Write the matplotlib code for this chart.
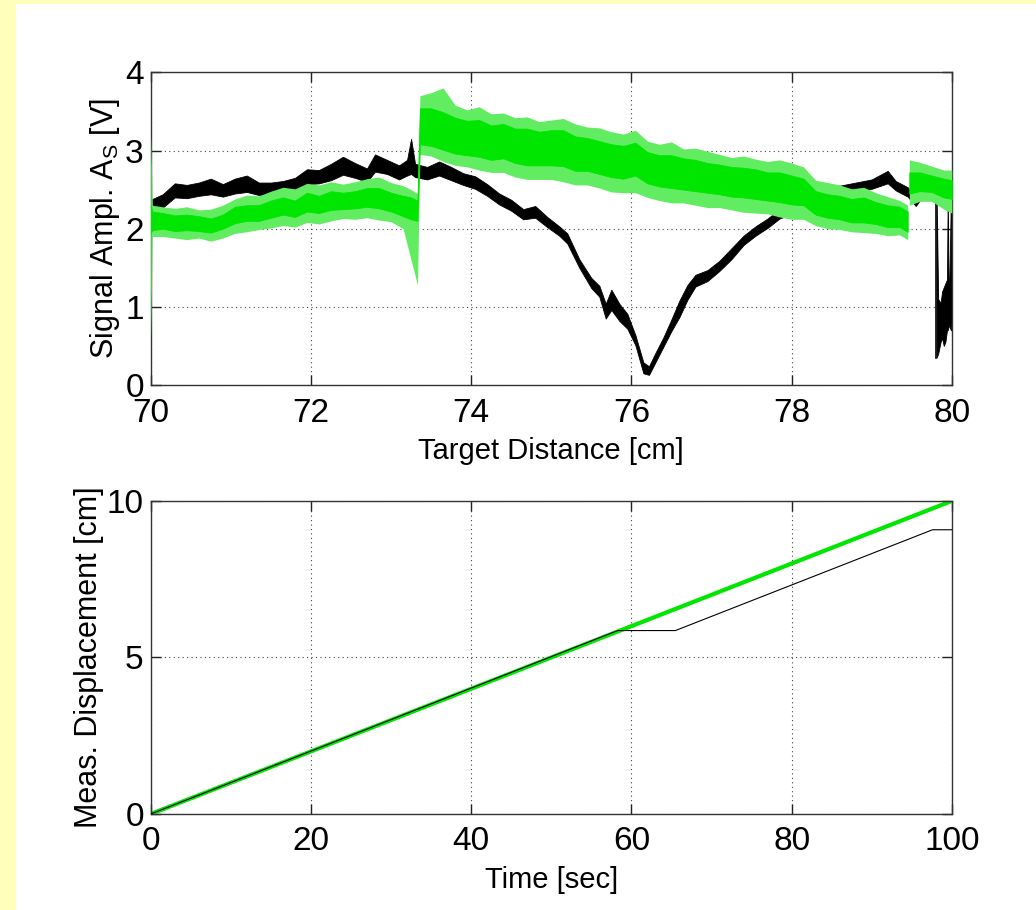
import matplotlib

matplotlib.use("Agg")
import matplotlib.pyplot as plt
from matplotlib.patches import Rectangle

black_x = [70.00, 70.15, 70.30, 70.45, 70.60, 70.75, 70.90, 71.05, 71.20, 71.35,
           71.50, 71.65, 71.80, 71.95, 72.10, 72.25, 72.40, 72.55, 72.70, 72.80,
           72.95, 73.10, 73.20, 73.25, 73.30, 73.45, 73.60, 73.75, 73.90, 74.05,
           74.20, 74.35, 74.50, 74.65, 74.80, 74.95, 75.10, 75.20, 75.35, 75.50,
           75.60, 75.68, 75.75, 75.85, 75.95, 76.05, 76.15, 76.22, 76.30, 76.40,
           76.50, 76.60, 76.70, 76.80, 76.95, 77.10, 77.25, 77.40, 77.55, 77.70,
           77.85, 78.00, 78.20, 78.40, 78.60, 78.80, 79.00, 79.20, 79.30, 79.45,
           79.55, 79.65, 79.79]
black_lo = [2.22, 2.27, 2.40, 2.39, 2.42, 2.44, 2.41, 2.45, 2.47, 2.43,
            2.42, 2.45, 2.49, 2.57, 2.58, 2.62, 2.69, 2.65, 2.60, 2.73,
            2.70, 2.63, 2.68, 2.70, 2.66, 2.63, 2.68, 2.62, 2.56, 2.51,
            2.42, 2.31, 2.23, 2.12, 2.14, 2.02, 1.91, 1.81, 1.50, 1.24,
            1.13, 0.85, 0.96, 0.82, 0.72, 0.51, 0.15, 0.13, 0.29, 0.49,
            0.69, 0.87, 1.09, 1.26, 1.33, 1.46, 1.61, 1.79, 1.91, 2.01,
            2.13, 2.19, 2.31, 2.39, 2.43, 2.47, 2.51, 2.58, 2.49, 2.41,
            2.29, 2.43, 2.43]
black_hi = [2.37, 2.44, 2.58, 2.56, 2.59, 2.64, 2.57, 2.64, 2.68, 2.59,
            2.59, 2.61, 2.65, 2.76, 2.75, 2.83, 2.92, 2.84, 2.77, 2.95,
            2.88, 2.81, 2.88, 3.15, 2.83, 2.79, 2.86, 2.79, 2.71, 2.67,
            2.57, 2.45, 2.37, 2.25, 2.29, 2.15, 2.03, 1.94, 1.61, 1.37,
            1.27, 1.04, 1.22, 1.04, 0.91, 0.64, 0.29, 0.24, 0.41, 0.61,
            0.84, 1.08, 1.28, 1.41, 1.47, 1.59, 1.75, 1.91, 2.03, 2.13,
            2.25, 2.31, 2.43, 2.51, 2.55, 2.59, 2.63, 2.74, 2.61, 2.53,
            2.39, 2.55, 2.53]

# black trace after the drop near 80 cm
tail_x = [79.81, 79.83, 79.86, 79.88, 79.90, 79.92, 79.94, 79.95, 79.96, 79.97, 79.99, 80.00]
tail_lo = [0.35, 0.40, 0.55, 0.60, 0.50, 0.55, 0.70, 0.70, 0.75, 0.75, 0.70, 0.80]
tail_hi = [2.50, 1.10, 1.05, 1.20, 1.25, 1.30, 1.35, 2.50, 1.30, 1.30, 2.50, 1.25]

# green trace: outer (spike) envelope and dense core
green_x = [70.00, 70.02, 70.15, 70.30, 70.45, 70.60, 70.75, 70.90, 71.05, 71.20,
           71.35, 71.50, 71.65, 71.80, 71.95, 72.10, 72.25, 72.40, 72.55, 72.70,
           72.85, 73.00, 73.15, 73.25, 73.33, 73.36, 73.50, 73.65, 73.80, 73.95,
           74.10, 74.25, 74.40, 74.55, 74.70, 74.85, 75.00, 75.15, 75.30, 75.45,
           75.60, 75.75, 75.90, 76.05, 76.20, 76.35, 76.50, 76.65, 76.80, 76.95,
           77.10, 77.25, 77.40, 77.55, 77.70, 77.85, 78.00, 78.15, 78.30, 78.45,
           78.60, 78.75, 78.90, 79.05, 79.20, 79.35, 79.45]
green_lo = [0.60, 1.90, 1.90, 1.88, 1.86, 1.88, 1.84, 1.88, 1.94, 1.96,
            1.99, 2.01, 2.04, 2.02, 2.08, 2.06, 2.10, 2.13, 2.12, 2.14,
            2.11, 2.09, 2.00, 1.60, 1.28, 2.95, 2.93, 2.86, 2.81, 2.79,
            2.75, 2.72, 2.72, 2.66, 2.63, 2.63, 2.63, 2.60, 2.56, 2.56,
            2.52, 2.47, 2.46, 2.46, 2.40, 2.36, 2.33, 2.33, 2.30, 2.27,
            2.27, 2.24, 2.21, 2.20, 2.19, 2.15, 2.12, 2.12, 2.04, 2.00,
            1.99, 1.96, 1.95, 1.94, 1.91, 1.92, 1.86]
green_hi = [3.20, 2.30, 2.28, 2.26, 2.28, 2.24, 2.25, 2.30, 2.38, 2.43,
            2.42, 2.48, 2.53, 2.51, 2.58, 2.56, 2.60, 2.57, 2.60, 2.64,
            2.66, 2.59, 2.55, 2.50, 2.45, 3.70, 3.74, 3.80, 3.58, 3.52,
            3.56, 3.47, 3.48, 3.42, 3.43, 3.37, 3.39, 3.41, 3.34, 3.30,
            3.29, 3.24, 3.21, 3.26, 3.12, 3.08, 3.11, 3.02, 3.03, 2.99,
            2.95, 2.91, 2.93, 2.89, 2.86, 2.88, 2.84, 2.79, 2.62, 2.59,
            2.56, 2.51, 2.53, 2.46, 2.41, 2.36, 2.30]
green_core_lo = [1.95, 1.98, 2.00, 1.97, 1.98, 1.97, 1.95, 2.00, 2.07, 2.10,
                 2.10, 2.14, 2.18, 2.15, 2.22, 2.20, 2.24, 2.25, 2.26, 2.28,
                 2.26, 2.22, 2.16, 2.12, 2.10, 3.08, 3.06, 3.01, 2.96, 2.94,
                 2.92, 2.88, 2.90, 2.84, 2.81, 2.81, 2.81, 2.80, 2.74, 2.74,
                 2.70, 2.66, 2.64, 2.68, 2.58, 2.54, 2.52, 2.50, 2.48, 2.46,
                 2.44, 2.41, 2.40, 2.38, 2.36, 2.34, 2.31, 2.30, 2.18, 2.14,
                 2.12, 2.08, 2.08, 2.06, 2.02, 2.02, 1.96]
green_core_hi = [2.30, 2.22, 2.20, 2.17, 2.18, 2.16, 2.13, 2.18, 2.28, 2.30,
                 2.30, 2.36, 2.40, 2.36, 2.46, 2.42, 2.48, 2.46, 2.48, 2.52,
                 2.52, 2.46, 2.42, 2.40, 2.36, 3.54, 3.54, 3.49, 3.42, 3.38,
                 3.39, 3.32, 3.34, 3.28, 3.28, 3.24, 3.26, 3.26, 3.18, 3.16,
                 3.12, 3.08, 3.06, 3.10, 2.98, 2.94, 2.94, 2.90, 2.88, 2.84,
                 2.82, 2.79, 2.78, 2.76, 2.72, 2.72, 2.68, 2.64, 2.48, 2.44,
                 2.42, 2.38, 2.40, 2.34, 2.30, 2.28, 2.22]

# green segment right of 79.45 cm
green2_x = [79.47, 79.60, 79.75, 79.90, 80.00]
green2_lo = [2.30, 2.35, 2.35, 2.25, 2.20]
green2_hi = [2.88, 2.85, 2.80, 2.75, 2.75]
green2_core_lo = [2.45, 2.48, 2.47, 2.40, 2.38]
green2_core_hi = [2.72, 2.72, 2.68, 2.64, 2.62]

# --- bottom panel: measured displacement vs time ---
ref_t = [0, 100]
ref_d = [0, 10]
meas_t = [0, 58.3, 65.5, 97.6, 100]
meas_d = [0, 5.86, 5.86, 9.08, 9.08]

plt.rcParams["font.family"] = ["Liberation Sans", "DejaVu Sans"]
plt.rcParams["mathtext.fontset"] = "custom"
plt.rcParams["mathtext.rm"] = "Liberation Sans"
plt.rcParams["mathtext.it"] = "Liberation Sans"

GREEN = "#00E600"
GREEN_LIGHT = "#62EC62"
fig = plt.figure(figsize=(10.36, 9.10), dpi=100, facecolor="white")

# pale yellow strips on the left and top edges
fig.patches.append(Rectangle((0, 0), 16 / 1036, 1, transform=fig.transFigure,
                             facecolor="#FFFFBB", edgecolor="none", zorder=-10))
fig.patches.append(Rectangle((0, 1 - 4 / 910), 1, 4 / 910, transform=fig.transFigure,
                             facecolor="#FFFFBB", edgecolor="none", zorder=-10))

ax1 = fig.add_axes([0.1455, 0.5769, 0.7732, 0.3436])
ax2 = fig.add_axes([0.1455, 0.1055, 0.7732, 0.3440])


def style_axes(ax):
    ax.grid(True, color="#444444", linestyle=(0, (1, 3)), linewidth=0.8)
    ax.tick_params(direction="in", length=7, width=1, top=True, right=True,
                   labelsize=24, colors="#222222", labelcolor="black")
    ax.tick_params(axis="x", pad=9)
    ax.tick_params(axis="y", pad=5)
    for s in ax.spines.values():
        s.set_color("#333333")
        s.set_linewidth(1.0)


ax1.fill_between(black_x, black_lo, black_hi, color="black", linewidth=0.6, zorder=2)
ax1.fill_between(tail_x, tail_lo, tail_hi, color="black", linewidth=0.6, zorder=2)
ax1.plot([79.80, 79.80], [0.35, 2.5], color="black", linewidth=1.2, zorder=2)
ax1.fill_between(green_x, green_lo, green_hi, color=GREEN_LIGHT, linewidth=0, zorder=3)
ax1.fill_between(green2_x, green2_lo, green2_hi, color=GREEN_LIGHT, linewidth=0, zorder=3)
ax1.fill_between(green_x, green_core_lo, green_core_hi, color=GREEN, linewidth=0.6, zorder=4)
ax1.fill_between(green2_x, green2_core_lo, green2_core_hi, color=GREEN, linewidth=0.6, zorder=4)
ax1.set_xlim(70, 80)
ax1.set_ylim(0, 4)
ax1.set_xticks([70, 72, 74, 76, 78, 80])
ax1.set_yticks([0, 1, 2, 3, 4])
ax1.set_xlabel("Target Distance [cm]", fontsize=21, labelpad=6)
ax1.set_ylabel(r"Signal Ampl. A$_{\mathrm{S}}$ [V]", fontsize=22, labelpad=2)
style_axes(ax1)

ax2.plot(ref_t, ref_d, color=GREEN, linewidth=3.0, zorder=2)
ax2.plot(meas_t, meas_d, color="black", linewidth=0.8, zorder=3)
ax2.set_xlim(0, 100)
ax2.set_ylim(0, 10)
ax2.set_xticks([0, 20, 40, 60, 80, 100])
ax2.set_yticks([0, 5, 10])
ax2.set_xlabel("Time [sec]", fontsize=21, labelpad=6)
ax2.set_ylabel("Meas. Displacement [cm]", fontsize=22, labelpad=2)
style_axes(ax2)

plt.savefig("out.png", dpi=100, facecolor="white")
plt.close()
